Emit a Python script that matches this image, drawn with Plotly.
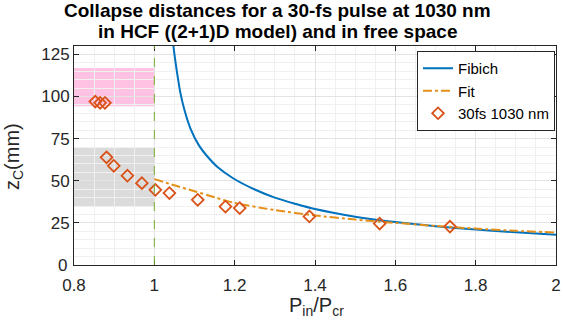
import plotly.graph_objects as go

# Fibich curve
fib_x = [1.044, 1.0475, 1.053, 1.058, 1.065, 1.075, 1.09, 1.111, 1.13, 1.158, 1.196, 1.25, 1.3, 1.35, 1.4, 1.5, 1.6, 1.7, 1.8, 1.9, 2.0]
fib_y = [140, 130, 120, 112, 102, 92, 81, 71, 65, 58, 51.5, 44.8, 40, 36.4, 33.2, 28.7, 25.5, 23, 21, 19.4, 18]

# Fit curve
fit_x = [1.0, 1.05, 1.1, 1.15, 1.2, 1.3, 1.4, 1.5, 1.6, 1.7, 1.8, 1.9, 2.0]
fit_y = [51, 47.3, 43.8, 40.2, 36.8, 32.6, 29.4, 27.0, 25.0, 23.2, 21.6, 20.3, 19.3]

# Measured data: 30fs 1030 nm
pts_x = [0.853, 0.865, 0.877, 0.881, 0.899, 0.933, 0.969, 1.0025, 1.0375, 1.108, 1.177, 1.2125, 1.386, 1.561, 1.736]
pts_y = [97, 96.3, 96.3, 63.9, 58.9, 53.0, 48.6, 44.6, 42.7, 38.7, 34.7, 33.8, 28.8, 24.6, 22.8]

# Shaded bands (x0, x1, y0, y1)
pink_band = [0.8, 1.0, 94.2, 117]
gray_band = [0.8, 1.0, 35, 70]
x_tick_vals = [0.8, 1, 1.2, 1.4, 1.6, 1.8, 2]
x_tick_text = ["0.8", "1", "1.2", "1.4", "1.6", "1.8", "2"]
y_tick_vals = [0, 25, 50, 75, 100, 125]
y_tick_text = ["", "25", "50", "75", "100", "125"]
y_zero_label = "0"

title_lines = ["Collapse distances for a 30-fs pulse at 1030 nm", "in HCF ((2+1)D model) and in free space"]
x_title = "P<sub>in</sub>/P<sub>cr</sub>"
y_title = "z<sub>C</sub>(mm)"

FONT = "Liberation Sans, Arial, sans-serif"
TXT = "#262626"
W, H = 563, 326
ML, MR, MT, MB = 74, 7, 46, 61
PW, PH = W - ML - MR, H - MT - MB


def px_x(p):
    return (p - ML) / PW


def px_y(p):
    return 1 - (p - MT) / PH


fig = go.Figure()

fig.add_shape(type="rect", x0=pink_band[0], x1=pink_band[1], y0=pink_band[2], y1=pink_band[3],
              fillcolor="#FFC2E2", line_width=0, layer="below")
fig.add_shape(type="rect", x0=gray_band[0], x1=gray_band[1], y0=gray_band[2], y1=gray_band[3],
              fillcolor="#DBDBDB", line_width=0, layer="below")
fig.add_shape(type="line", x0=1, x1=1, y0=0, y1=130, line=dict(color="#77AC30", width=1, dash="dash"))

fig.add_trace(go.Scatter(x=fib_x, y=fib_y, mode="lines", name="Fibich",
                         line=dict(color="#0072BD", width=2, shape="spline", smoothing=0.8)))
fig.add_trace(go.Scatter(x=fit_x, y=fit_y, mode="lines", name="Fit",
                         line=dict(color="#E5901A", width=2, dash="dashdot", shape="spline", smoothing=0.6)))
fig.add_trace(go.Scatter(x=pts_x, y=pts_y, mode="markers", name="30fs 1030 nm",
                         marker=dict(symbol="diamond-open", size=9, color="#D95319", line=dict(width=1.8, color="#D95319"))))

annotations = [
    dict(text="<b>" + title_lines[0] + "</b>", xref="paper", yref="paper", x=px_x(277), y=px_y(10),
         xanchor="center", yanchor="middle", showarrow=False, font=dict(family=FONT, size=19, color="black")),
    dict(text="<b>" + title_lines[1] + "</b>", xref="paper", yref="paper", x=px_x(278), y=px_y(32),
         xanchor="center", yanchor="middle", showarrow=False, font=dict(family=FONT, size=19, color="black")),
    dict(text=x_title, xref="paper", yref="paper", x=px_x(316), y=px_y(306),
         xanchor="center", yanchor="middle", showarrow=False, font=dict(family=FONT, size=20, color=TXT)),
    dict(text=y_title, xref="paper", yref="paper", x=px_x(13), y=px_y(157), textangle=-90,
         xanchor="center", yanchor="middle", showarrow=False, font=dict(family=FONT, size=20, color=TXT)),
    dict(text=y_zero_label, xref="paper", yref="paper", x=px_x(69), y=px_y(265),
         xanchor="right", yanchor="middle", showarrow=False, font=dict(family=FONT, size=17, color=TXT)),
]

fig.update_layout(
    width=W, height=H,
    margin=dict(l=ML, r=MR, t=MT, b=MB, autoexpand=False),
    paper_bgcolor="white", plot_bgcolor="white",
    font=dict(family=FONT, size=17, color=TXT),
    annotations=annotations,
    showlegend=True,
    legend=dict(x=px_x(555), y=px_y(51), xanchor="right", yanchor="top",
                bgcolor="white", bordercolor="#262626", borderwidth=1,
                font=dict(family=FONT, size=15, color="black"),
                itemwidth=30, tracegroupgap=0),
)

fig.update_xaxes(
    range=[0.8, 2], tickvals=x_tick_vals, ticktext=x_tick_text, automargin=False,
    ticks="inside", ticklen=5, tickcolor=TXT, showline=True, linecolor=TXT, linewidth=1, mirror="ticks",
    showgrid=True, gridcolor="#E3E3E3", gridwidth=1, zeroline=False,
    minor=dict(dtick=0.05, showgrid=True, gridcolor="#F0F0F0", ticks=""),
    tickfont=dict(size=17, color=TXT), ticklabeloverflow="allow", ticklabelstandoff=5,
)
fig.update_yaxes(
    range=[0, 130], tickvals=y_tick_vals, ticktext=y_tick_text, automargin=False,
    ticks="inside", ticklen=5, tickcolor=TXT, showline=True, linecolor=TXT, linewidth=1, mirror="ticks",
    showgrid=True, gridcolor="#E3E3E3", gridwidth=1, zeroline=False,
    minor=dict(dtick=5, showgrid=True, gridcolor="#F0F0F0", ticks=""),
    tickfont=dict(size=17, color=TXT), ticklabeloverflow="allow",
)

fig.write_html("out.html", config={"displayModeBar": False},
               post_script="document.body.style.margin='0px';document.body.style.overflow='hidden';")
